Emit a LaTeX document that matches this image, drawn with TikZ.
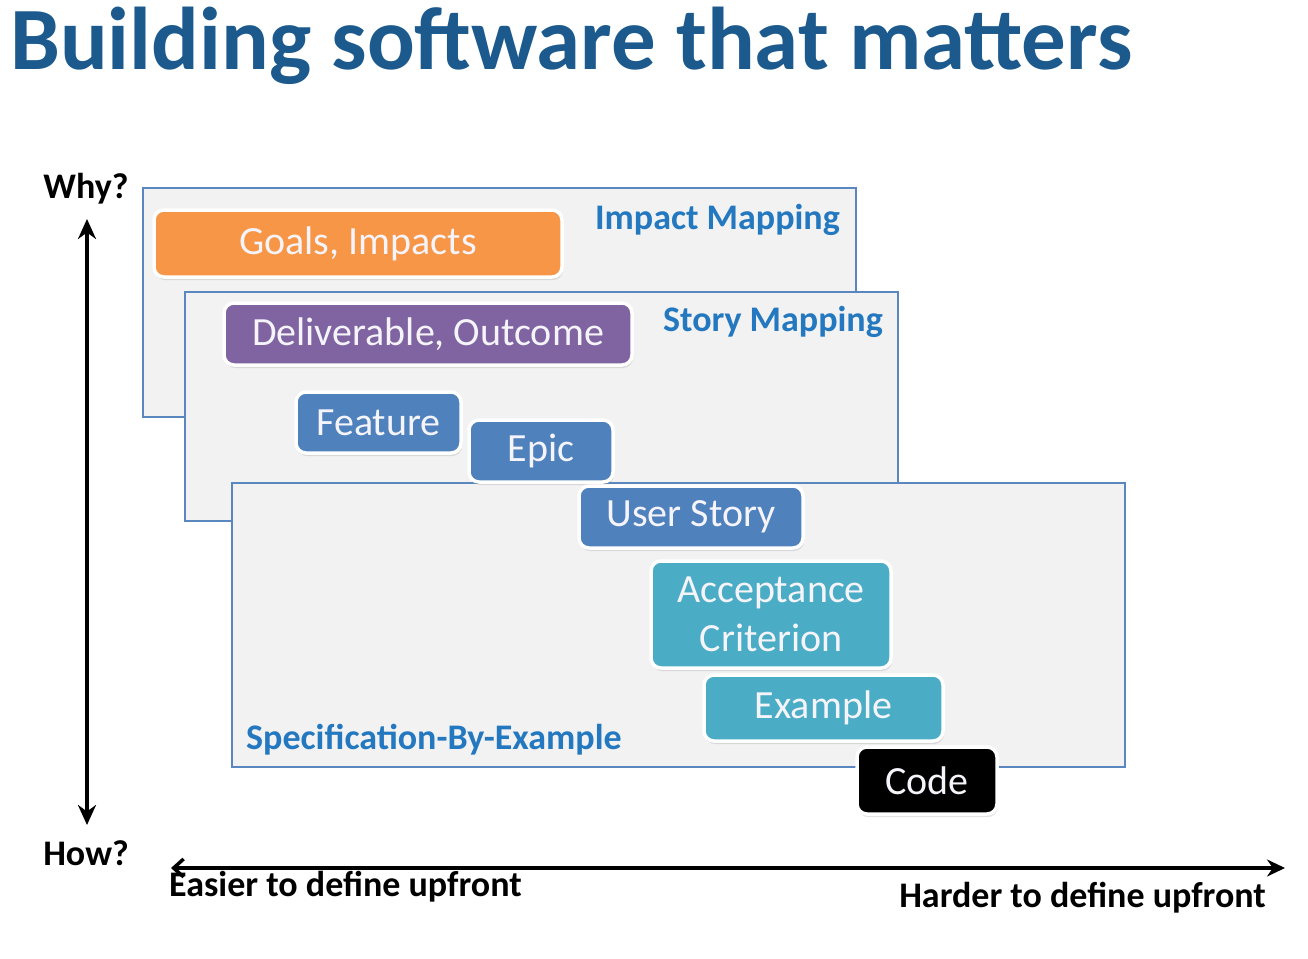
\documentclass[tikz,border=0pt]{standalone}
\usepackage{fontspec}
\setmainfont{Carlito}
\usetikzlibrary{arrows.meta,shadows}
\definecolor{titleblue}{HTML}{1C5A8E}
\definecolor{lblblue}{HTML}{2378C0}
\definecolor{frameblue}{HTML}{5B87C0}
\definecolor{framefill}{HTML}{F2F2F2}
\definecolor{corange}{HTML}{F79646}
\definecolor{cpurple}{HTML}{8064A2}
\definecolor{cblue}{HTML}{4F81BD}
\definecolor{cteal}{HTML}{4BACC6}
\definecolor{ctext}{HTML}{F4F4FA}
\tikzset{
  frame/.style={draw=frameblue, fill=framefill, line width=2.5pt},
  card/.style={draw=white, line width=3.5pt, rounded corners=10pt, text=ctext,
    font=\fontsize{40}{46}\selectfont, align=center, inner sep=0pt,
    drop shadow={opacity=0.22, shadow xshift=1pt, shadow yshift=-3pt}},
  maplabel/.style={text=lblblue, font=\bfseries\fontsize{36}{40}\selectfont, inner sep=0pt},
  axislabel/.style={text=black, font=\bfseries\fontsize{36}{40}\selectfont, inner sep=0pt},
  axis/.style={line width=3.5pt, black}
}
\begin{document}
\begin{tikzpicture}[x=1pt,y=-1pt]
\useasboundingbox (0,0) rectangle (1308,958);
\node[anchor=base west, inner sep=0pt, text=titleblue, font=\bfseries\fontsize{89}{96}\selectfont] (title) at (10,70) {Building software that matters};
% frames
\draw[frame] (143,188) rectangle (856,417);
\node[maplabel, anchor=east] (impact) at (840,220) {Impact Mapping};
\draw[frame] (185,292) rectangle (898,521);
\node[maplabel, anchor=east] (story) at (883,322) {Story Mapping};
\draw[frame] (232,483) rectangle (1125,767);
\node[maplabel, anchor=west] (sbe) at (246,740) {Specification-By-Example};
% cards
\node[card, fill=corange, minimum width=408pt, minimum height=67pt] (goals) at (358,243.5) {Goals, Impacts};
\node[card, fill=cpurple, minimum width=408pt, minimum height=62pt] (deliv) at (428,334) {Deliverable, Outcome};
\node[card, fill=cblue, minimum width=165pt, minimum height=61pt] (feature) at (378.5,422.5) {Feature};
\node[card, fill=cblue, minimum width=144pt, minimum height=62pt] (epic) at (541,451) {Epic};
\node[card, fill=cblue, minimum width=224pt, minimum height=62pt] (ustory) at (691,517) {User Story};
\node[card, fill=cteal, minimum width=240pt, minimum height=107pt, font=\fontsize{40}{49}\selectfont] (accept) at (771,614.5) {Acceptance\\Criterion};
\node[card, fill=cteal, minimum width=239pt, minimum height=66pt] (example) at (823.5,708) {Example};
\node[card, fill=black, minimum width=140pt, minimum height=67pt] (code) at (927,780.5) {Code};
% axes
\node[axislabel] (why) at (86,189) {Why?};
\node[axislabel] (how) at (86,853) {How?};
\coordinate (vtop) at (87,219);
\coordinate (vbot) at (87,825);
\draw[axis, {Stealth[length=20pt,width=18pt]}-{Stealth[length=20pt,width=18pt]}] (vtop) -- (vbot);
\coordinate (hl) at (171,868);
\coordinate (hr) at (1285,868);
\draw[axis, {Straight Barb[length=10pt,width=18pt]}-{Stealth[length=18pt,width=17pt]}] (hl) -- (hr);
\node[axislabel, anchor=west] (easier) at (169,887) {Easier to define upfront};
\node[axislabel, anchor=east] (harder) at (1266,898) {Harder to define upfront};
\end{tikzpicture}
\end{document}
